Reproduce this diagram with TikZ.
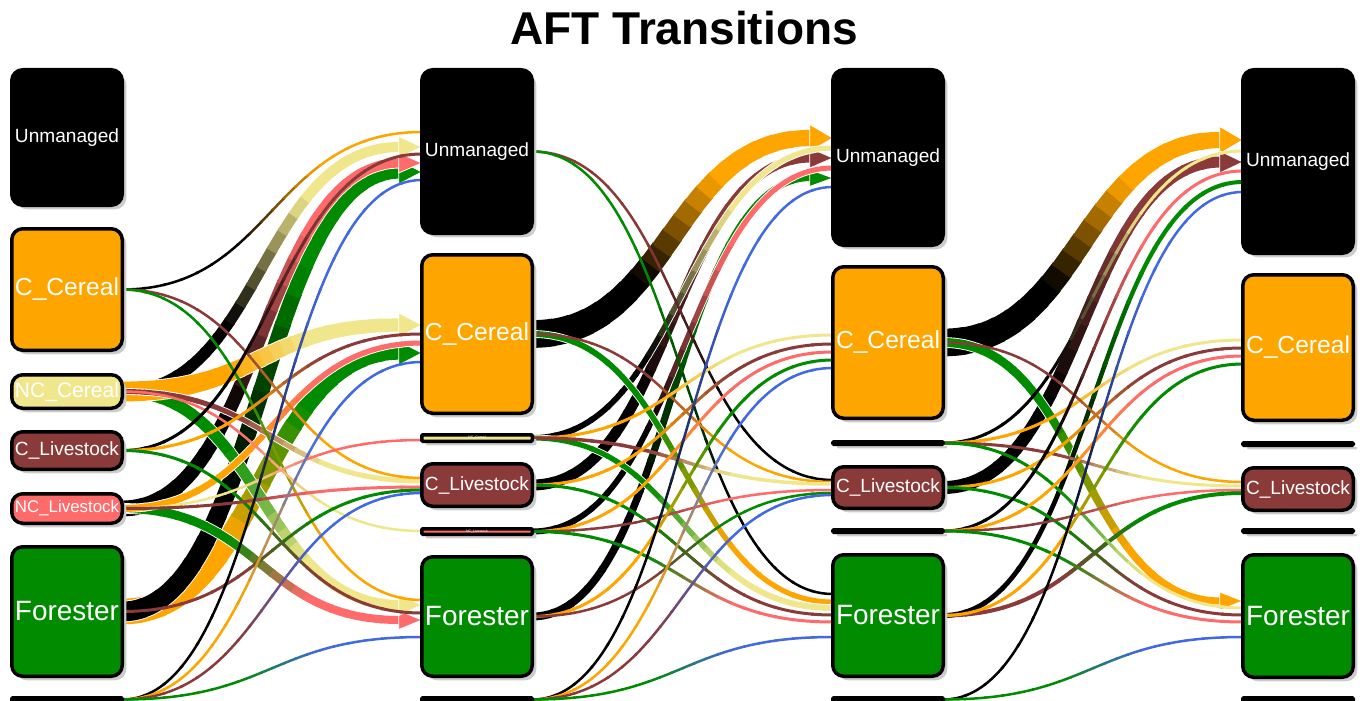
\documentclass[tikz,border=0pt]{standalone}
\usepackage{fontspec}
\setmainfont{Liberation Sans}
\setsansfont{Liberation Sans}
\usepackage{graphicx}
\usetikzlibrary{shadows}
\pgfdeclarelayer{bg}
\pgfsetlayers{bg,main}
\definecolor{cU}{HTML}{000000}
\definecolor{cCC}{HTML}{FFA500}
\definecolor{cNCC}{HTML}{F0E68C}
\definecolor{cCL}{HTML}{8B3A3A}
\definecolor{cNCL}{HTML}{FF6A6A}
\definecolor{cF}{HTML}{008B00}
\definecolor{cB}{HTML}{4169E1}
\tikzset{
  aftbox/.style={draw=black, line width=3.5pt, rounded corners=11pt, text=white,
    inner sep=0pt, outer sep=0pt,
    drop shadow={shadow xshift=4pt, shadow yshift=-4pt, fill=black!20, opacity=1}},
  barbox/.style={aftbox, rounded corners=1pt},
  titlefont/.style={font=\bfseries\fontsize{46}{46}\selectfont}
}
\newdimen\flT
\newcommand\lbl[1]{\resizebox{104pt}{!}{#1}}
\newcommand\tinylbl[1]{{\fontsize{3.5}{3.5}\selectfont #1}}
% name, x-left, y-top, y-bottom, fill, style, label
\newcommand\aft[7]{\node[#6, fill=#5, minimum width=110.5pt,
  minimum height={#4pt-#3pt-3.5pt}] (#1) at ({#2+57},{(#3+#4)/2}) {#7};}
% segment geometry for segment \i of 20 (#3 = overlap)
\newcommand\flgeom[3]{%
    \pgfmathsetmacro\fta{(\i-1)/20}%
    \pgfmathsetmacro\ftb{min(1,\i/20+#3)}%
    \pgfmathsetmacro\fdt{(\ftb-\fta)/3}%
    \pgfmathsetmacro\fxa{\flA+\flD*(1.5*\fta-1.5*\fta*\fta+\fta*\fta*\fta)}%
    \pgfmathsetmacro\fya{\flB+\flE*(3*\fta*\fta-2*\fta*\fta*\fta)}%
    \pgfmathsetmacro\fxb{\flA+\flD*(1.5*\ftb-1.5*\ftb*\ftb+\ftb*\ftb*\ftb)}%
    \pgfmathsetmacro\fyb{\flB+\flE*(3*\ftb*\ftb-2*\ftb*\ftb*\ftb)}%
    \pgfmathsetmacro\fca{\fxa+\flD*(1.5-3*\fta+3*\fta*\fta)*\fdt}%
    \pgfmathsetmacro\fcb{\fya+\flE*(6*\fta-6*\fta*\fta)*\fdt}%
    \pgfmathsetmacro\fcc{\fxb-\flD*(1.5-3*\ftb+3*\ftb*\ftb)*\fdt}%
    \pgfmathsetmacro\fcd{\fyb-\flE*(6*\ftb-6*\ftb*\ftb)*\fdt}%
    \pgfmathsetmacro\ftm{(\i-0.5)/20}%
    \pgfmathsetmacro\fw{#1+(#2-#1)*\ftm}%
}
% src, tgt, target y, w0, w1, start colour, end colour, arrow
\newcommand\fl[8]{%
  \pgfextractx\flT{\pgfpointanchor{#1}{east}}\pgfmathsetmacro\flA{\flT}%
  \pgfextracty\flT{\pgfpointanchor{#1}{east}}\pgfmathsetmacro\flB{\flT}%
  \pgfextractx\flT{\pgfpointanchor{#2}{west}}\pgfmathsetmacro\flxb{\flT}%
  \pgfmathsetmacro\flyb{-#3}%
  \ifnum#8=1 \pgfmathsetmacro\flC{\flxb-22}\else\pgfmathsetmacro\flC{\flxb}\fi
  \pgfmathsetmacro\flD{\flC-\flA}%
  \pgfmathsetmacro\flE{\flyb-\flB}%
  \ifdim#4pt>4.5pt
  \foreach \i in {1,...,20}{%
    \flgeom{#4}{#5}{0.006}%
    \draw[white, line width={\fw+1.8}] (\fxa pt,\fya pt) .. controls (\fca pt,\fcb pt) and (\fcc pt,\fcd pt) .. (\fxb pt,\fyb pt);
  }%
  \fi
  \foreach \i in {1,...,20}{%
    \flgeom{#4}{#5}{0.006}%
    \pgfmathtruncatemacro\fmix{100*min(1,max(0,(\ftm-0.35)/0.35))}%
    \draw[line width=\fw, draw=#7!\fmix!#6] (\fxa pt,\fya pt) .. controls (\fca pt,\fcb pt) and (\fcc pt,\fcd pt) .. (\fxb pt,\fyb pt);
  }%
  \ifnum#8=1
    \fill[#7, draw=white, line width=0.8pt] (\flC pt-1pt,{\flyb pt+#5pt/2+5.5pt}) -- (\flxb pt,\flyb pt) -- (\flC pt-1pt,{\flyb pt-#5pt/2-5.5pt}) -- cycle;
  \fi
}
\begin{document}
\begin{tikzpicture}[x=1pt,y=-1pt]
\useasboundingbox (0,0) rectangle (1368,701);
\node[titlefont] (title) at (684,28) {AFT Transitions};
% column 1
\aft{au}{10}{68}{207}{cU}{aftbox}{\lbl{Unmanaged}}
\aft{acc}{10}{227}{352}{cCC}{aftbox}{\lbl{C\_Cereal}}
\aft{ancc}{10}{373}{410}{cNCC}{aftbox}{\lbl{NC\_Cereal}}
\aft{acl}{10}{430}{471}{cCL}{aftbox}{\lbl{C\_Livestock}}
\aft{ancl}{10}{492}{525}{cNCL}{aftbox}{\lbl{NC\_Livestock}}
\aft{af}{10}{545}{678}{cF}{aftbox}{\lbl{Forester}}
\aft{ab}{10}{696}{703}{cB}{barbox}{}
% column 2
\aft{bu}{420}{68}{235}{cU}{aftbox}{\lbl{Unmanaged}}
\aft{bcc}{420}{253}{415}{cCC}{aftbox}{\lbl{C\_Cereal}}
\aft{bncc}{420}{433}{443}{cNCC}{barbox}{\tinylbl{NC\_Cereal}}
\aft{bcl}{420}{462}{508}{cCL}{aftbox}{\lbl{C\_Livestock}}
\aft{bncl}{420}{527}{536}{cNCL}{barbox}{\tinylbl{NC\_Livestock}}
\aft{bf}{420}{555}{678}{cF}{aftbox}{\lbl{Forester}}
\aft{bb}{420}{696}{703}{cB}{barbox}{}
% column 3
\aft{cu}{831}{68}{247}{cU}{aftbox}{\lbl{Unmanaged}}
\aft{ccc}{831}{265}{420}{cCC}{aftbox}{\lbl{C\_Cereal}}
\aft{cncc}{831}{440}{446}{cNCC}{barbox}{}
\aft{ccl}{831}{465}{510}{cCL}{aftbox}{\lbl{C\_Livestock}}
\aft{cncl}{831}{528}{534}{cNCL}{barbox}{}
\aft{cf}{831}{553}{678}{cF}{aftbox}{\lbl{Forester}}
\aft{cb}{831}{696}{703}{cB}{barbox}{}
% column 4
\aft{du}{1241}{68}{255}{cU}{aftbox}{\lbl{Unmanaged}}
\aft{dcc}{1241}{273}{422}{cCC}{aftbox}{\lbl{C\_Cereal}}
\aft{dncc}{1241}{441}{447}{cNCC}{barbox}{}
\aft{dcl}{1241}{466}{512}{cCL}{aftbox}{\lbl{C\_Livestock}}
\aft{dncl}{1241}{528}{534}{cNCL}{barbox}{}
\aft{df}{1241}{553}{679}{cF}{aftbox}{\lbl{Forester}}
\aft{db}{1241}{696}{703}{cB}{barbox}{}
\begin{pgfonlayer}{bg}
% ---- transition 1 : thick
\fl{af}{bcc}{353}{26}{13}{cCC}{cF}{1}
\fl{af}{bu}{172}{20}{13}{cU}{cF}{1}
\fl{ancl}{bu}{163}{16}{9}{cU}{cNCL}{1}
\fl{ancl}{bf}{620}{9}{8}{cF}{cNCL}{1}
\fl{ancc}{bu}{147}{12}{10}{cU}{cNCC}{1}
\fl{ancc}{bf}{605}{12}{10}{cF}{cNCC}{1}
\fl{ancc}{bcc}{325}{20}{13}{cCC}{cNCC}{1}
\fl{ancl}{bcc}{343}{7}{5}{cCC}{cNCL}{0}
\fl{ancc}{bcl}{481}{5}{5}{cCL}{cNCC}{0}
% ---- transition 1 : thin
\fl{acc}{bu}{132}{2.5}{2.5}{cU}{cCC}{0}
\fl{acc}{bcl}{478}{2.5}{2.5}{cCL}{cCC}{0}
\fl{acc}{bf}{600}{2.5}{2.5}{cF}{cCC}{0}
\fl{ancc}{bncl}{531}{2.5}{2.5}{cNCL}{cNCC}{0}
\fl{acl}{bu}{154}{3}{3}{cU}{cCL}{0}
\fl{acl}{bcc}{334}{3}{3}{cCC}{cCL}{0}
\fl{acl}{bf}{613}{3}{3}{cF}{cCL}{0}
\fl{ancl}{bncc}{440}{2.5}{2.5}{cNCC}{cNCL}{0}
\fl{ancl}{bcl}{487}{3}{3}{cCL}{cNCL}{0}
\fl{af}{bcl}{490}{3}{3}{cCL}{cF}{0}
\fl{ab}{bu}{180}{2.5}{2.5}{cU}{cB}{0}
\fl{ab}{bcc}{362}{2.5}{2.5}{cCC}{cB}{0}
\fl{ab}{bcl}{493}{2.5}{2.5}{cCL}{cB}{0}
\fl{ab}{bf}{637}{2.5}{2.5}{cF}{cB}{0}
% ---- transition 2 : thick
\fl{bcc}{cu}{138}{28}{16}{cU}{cCC}{1}
\fl{bcl}{cu}{158}{11}{9}{cU}{cCL}{1}
\fl{bf}{cu}{178}{8}{6}{cU}{cF}{1}
\fl{bncc}{cu}{148}{6}{5}{cU}{cNCC}{0}
\fl{bncl}{cu}{168}{6}{5}{cU}{cNCL}{0}
\fl{bcc}{cf}{602}{6}{5}{cF}{cCC}{0}
\fl{bncc}{cf}{608}{5}{6}{cF}{cNCC}{0}
% ---- transition 2 : thin
\fl{bu}{ccl}{480}{2.5}{2.5}{cCL}{cU}{0}
\fl{bu}{cf}{594}{2.5}{2.5}{cF}{cU}{0}
\fl{bcc}{ccl}{482}{2.5}{2.5}{cCL}{cCC}{0}
\fl{bncc}{ccc}{335}{3}{3}{cCC}{cNCC}{0}
\fl{bncc}{ccl}{484}{3.5}{3.5}{cCL}{cNCC}{0}
\fl{bcl}{ccc}{344}{3}{3}{cCC}{cCL}{0}
\fl{bcl}{cf}{615}{3}{3}{cF}{cCL}{0}
\fl{bncl}{ccc}{352}{3}{3}{cCC}{cNCL}{0}
\fl{bncl}{ccl}{490}{2.5}{2.5}{cCL}{cNCL}{0}
\fl{bncl}{cf}{622}{3}{3}{cF}{cNCL}{0}
\fl{bf}{ccc}{360}{3}{3}{cCC}{cF}{0}
\fl{bf}{ccl}{493}{2.5}{2.5}{cCL}{cF}{0}
\fl{bb}{cu}{187}{2.5}{2.5}{cU}{cB}{0}
\fl{bb}{ccc}{368}{2.5}{2.5}{cCC}{cB}{0}
\fl{bb}{ccl}{495}{2.5}{2.5}{cCL}{cB}{0}
\fl{bb}{cf}{637}{2.5}{2.5}{cF}{cB}{0}
% ---- transition 3 : thick
\fl{ccc}{du}{140}{28}{16}{cU}{cCC}{1}
\fl{ccl}{du}{162}{13}{11}{cU}{cCL}{1}
\fl{ccc}{df}{601}{9}{7}{cF}{cCC}{1}
\fl{cf}{du}{182}{5}{4}{cU}{cF}{0}
\fl{cf}{dcl}{493}{4}{4}{cCL}{cF}{0}
% ---- transition 3 : thin
\fl{cncc}{du}{151}{3}{3}{cU}{cNCC}{0}
\fl{cncc}{dcc}{340}{3}{3}{cCC}{cNCC}{0}
\fl{cncc}{dcl}{486}{3}{3}{cCL}{cNCC}{0}
\fl{cncc}{df}{608}{3}{3}{cF}{cNCC}{0}
\fl{ccc}{dcl}{482}{2.5}{2.5}{cCL}{cCC}{0}
\fl{ccl}{dcc}{348}{3}{3}{cCC}{cCL}{0}
\fl{ccl}{df}{615}{3}{3}{cF}{cCL}{0}
\fl{cncl}{du}{171}{3}{3}{cU}{cNCL}{0}
\fl{cncl}{dcc}{356}{3}{3}{cCC}{cNCL}{0}
\fl{cncl}{dcl}{490}{2.5}{2.5}{cCL}{cNCL}{0}
\fl{cncl}{df}{622}{3}{3}{cF}{cNCL}{0}
\fl{cf}{dcc}{364}{3}{3}{cCC}{cF}{0}
\fl{cb}{du}{192}{2.5}{2.5}{cU}{cB}{0}
\fl{cb}{df}{637}{2.5}{2.5}{cF}{cB}{0}
\end{pgfonlayer}
\end{tikzpicture}
\end{document}
